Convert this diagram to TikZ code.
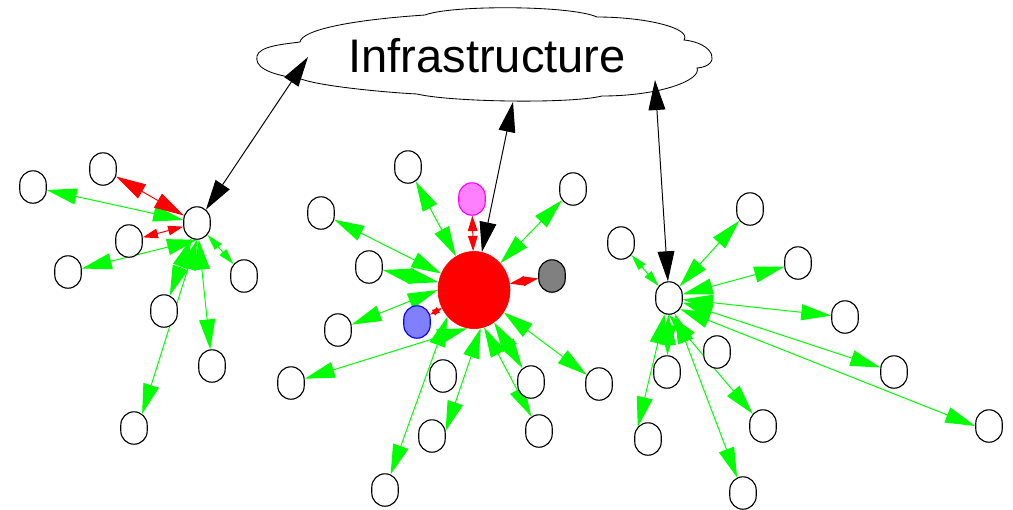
\documentclass[tikz,border=0pt]{standalone}
\usepackage{fontspec}
\setmainfont{Liberation Sans}
\usepackage{xcolor}
\usepackage{tikz}
\usetikzlibrary{arrows.meta,shapes.geometric,shapes.misc,backgrounds}
\definecolor{linkgreen}{RGB}{0,255,0}
\definecolor{linkred}{RGB}{255,0,0}
\definecolor{peerpink}{RGB}{255,128,255}
\definecolor{peermagenta}{RGB}{255,0,255}
\definecolor{peerblue}{RGB}{128,128,255}
\definecolor{peergray}{RGB}{128,128,128}

\begin{document}
\begin{tikzpicture}[x=0.025cm, y=-0.025cm]
    \tikzstyle{leaf}=[draw, line width=0.8pt, fill=white, rounded rectangle, rotate=90, minimum width=8.1mm, minimum height=6.6mm, inner sep=0pt]
    \tikzstyle{link}=[linkgreen, line width=0.7pt, {Triangle[length=7.5mm, width=4mm]}-{Triangle[length=7.5mm, width=4mm]}]
    \tikzstyle{shortlink}=[linkgreen, line width=0.7pt, {Triangle[length=4mm, width=2.2mm]}-{Triangle[length=4mm, width=2.2mm]}]
    \tikzstyle{peerlink}=[linkred, line width=0.7pt, {Triangle[length=7.5mm, width=4mm]}-{Triangle[length=7.5mm, width=4mm]}]
    \tikzstyle{shortpeer}=[linkred, line width=0.7pt, {Triangle[length=3.8mm, width=2.4mm]}-{Triangle[length=3.8mm, width=2.4mm]}]
    \tikzstyle{tinypeer}=[linkred, line width=0.7pt, {Triangle[length=2.4mm, width=1.6mm]}-{Triangle[length=2.4mm, width=1.6mm]}]
    \tikzstyle{uplink}=[black, line width=0.7pt, {Triangle[length=7.5mm, width=4.2mm]}-{Triangle[length=7.5mm, width=4.2mm]}]
    \useasboundingbox (0,0) rectangle (1013,509);

    \draw[line width=0.6pt] (300,42) .. controls (302,30) and (350,20) .. (425,15)
        .. controls (450,5) and (570,5) .. (597,17)
        .. controls (645,17) and (692,28) .. (684,40)
        .. controls (715,43) and (722,66) .. (697,68)
        .. controls (702,80) and (660,96) .. (602,96)
        .. controls (570,104) and (450,102) .. (417,94)
        .. controls (380,92) and (320,86) .. (301,79)
        .. controls (265,74) and (255,66) .. (257,56)
        .. controls (259,46) and (285,44) .. (300,42) -- cycle;
    \node[font=\fontsize{33.5}{40}\selectfont, inner sep=0pt] (infra) at (487,56) {Infrastructure};
    \coordinate (inL) at (308,57);
    \coordinate (inM) at (513,102);
    \coordinate (inR) at (655,80);

    \node[leaf] (hubL) at (197,223) {};
    \node[ellipse, draw=linkred, fill=linkred, minimum width=1.8cm, minimum height=1.93cm, inner sep=0pt] (hubM) at (474,290) {};
    \node[leaf] (hubR) at (669,298) {};

    \foreach \n/\x/\y in {l1/33/187, l2/103/169, l3/129/241, l4/68/272, l5/244/276, l6/164/311, l7/212/366, l8/134/428,
        m1/408/167, m2/321/213, m3/369/267, m4/338/330, m5/291/383, m6/443/376, m7/432/436, m8/385/490,
        m9/531/382, m10/539/431, m11/599/384, m12/573/189,
        r1/621/243, r2/750/209, r3/798/263, r4/845/317, r5/894/372, r6/989/426, r7/717/352, r8/667/372,
        r9/648/439, r10/763/426, r11/743/493}
        \node[leaf] (\n) at (\x,\y) {};
    \node[leaf, fill=peerpink, draw=peermagenta] (pink) at (472,199) {};
    \node[leaf, fill=peergray] (gray) at (552,276) {};
    \node[leaf, fill=peerblue, draw=blue] (blue) at (417,322) {};

    \begin{scope}[on background layer]
        \draw[uplink] (hubL) -- (inL);
        \draw[uplink] (hubM) -- (inM);
        \draw[uplink] (hubR) -- (inR);

        \foreach \n in {l1,l6,l7} \draw[link] (hubL) -- (\n);
        \draw[link] (hubL.west) -- (l4);
        \draw[link] (hubL.west) -- (l8.-30);
        \draw[shortlink] (hubL) -- (l5);
        \draw[peerlink] (hubL) -- (l2);
        \draw[shortpeer] (hubL) -- (l3);

        \foreach \n in {m1,m2,m3,m9,m11,m12} \draw[link] (hubM) -- (\n);
        \draw[link] (hubM.west) -- (m4);
        \draw[link] (hubM.-100) -- (m5);
        \draw[link] (hubM.-80) -- (m7.-70);
        \draw[link] (hubM.-135) -- (m8);
        \draw[link] (hubM.-75) -- (m10);
        \draw[shortpeer] (hubM) -- (pink);
        \draw[shortpeer] (hubM) -- (gray);
        \draw[tinypeer] (hubM) -- (blue);

        \foreach \n in {r2,r3,r4,r5,r8,r11} \draw[link] (hubR) -- (\n);
        \draw[link] (hubR.-135) -- (r6.north);
        \draw[link] (hubR.165) -- (r9.40);
        \draw[link] (hubR.west) -- (r10);
        \draw[shortlink] (hubR) -- (r1);
    \end{scope}
\end{tikzpicture}
\end{document}
